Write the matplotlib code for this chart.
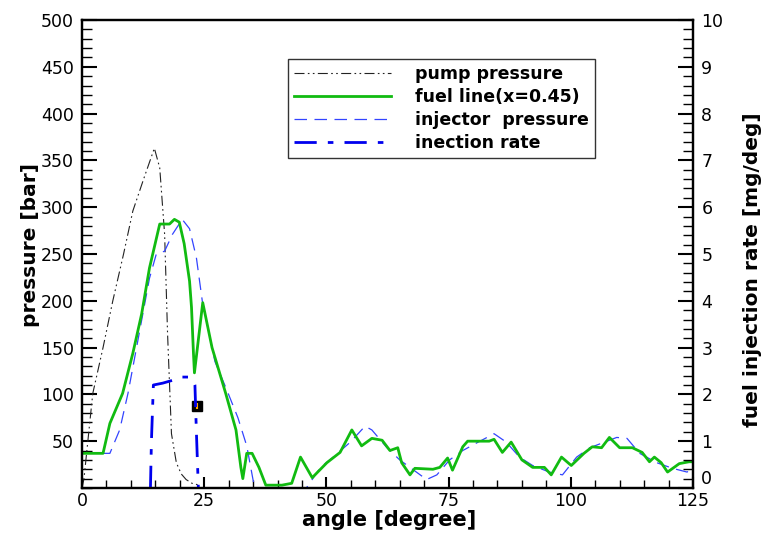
import matplotlib
matplotlib.use("Agg")
import matplotlib.pyplot as plt
from matplotlib.ticker import MultipleLocator
from matplotlib.lines import Line2D

plt.rcParams['font.family'] = ['DejaVu Sans']

# ---- data ----
pump_ang = [0, 0.4, 2.2, 4.3, 6.3, 8.5, 10.4, 12.6, 14.8, 15.9, 16.9, 17.5, 18.3, 19.3, 20.3, 21.3, 22.5, 24.0]
pump_p = [0, 10, 101, 150, 200, 250, 296, 330, 363, 342, 271, 165, 58, 27, 15, 9, 5, 3]

fuel_ang = [0, 4.3, 5.7, 8.3, 10.4, 12.2, 13.8, 15.9, 17.9, 18.9, 19.9, 20.9, 22.0, 22.4, 22.8, 23.0,
            24.7, 26.6, 29.4, 31.5, 32.5, 32.9, 33.7, 34.8, 36.2, 37.6, 40.9, 42.9, 44.7, 47.1, 50.1,
            52.8, 55.2, 57.2, 59.3, 61.4, 63.0, 64.6, 65.4, 67.1, 68.1, 71.8, 73.2, 74.8, 75.8, 77.9,
            78.9, 83.3, 84.3, 86.0, 87.8, 90.0, 92.2, 94.6, 96.0, 98.1, 100.1, 102.7, 104.4, 106.3,
            107.9, 110.0, 112.6, 114.6, 116.1, 117.1, 118.5, 119.8, 122.2, 124.2, 125]
fuel_p = [37, 37, 69, 101, 144, 186, 235, 282, 282, 287, 284, 261, 221, 193, 144, 123,
          198, 150, 101, 62, 22, 10, 37, 37, 22, 3, 3, 5, 33, 11, 27,
          38, 62, 45, 53, 51, 40, 43, 27, 14, 21, 20, 22, 32, 19, 44,
          50, 50, 52, 38, 49, 30, 22, 22, 14, 33, 24, 37, 44, 43,
          54, 43, 43, 38, 28, 33, 27, 17, 26, 28, 28]

inj_ang = [0, 5.7, 7.7, 9.4, 11.8, 13.8, 15.2, 16.9, 18.5, 20.5, 22.0, 23.4, 24.6, 26.0, 27.2, 29.6,
           31.9, 33.7, 35.3, 45.9, 48.8, 51.4, 54.9, 57.9, 59.3, 62.4, 65.0, 67.1, 70.5, 72.6, 75.2,
           77.9, 80.7, 84.3, 86.8, 89.5, 92.2, 95.6, 98.3, 101.2, 103.9, 109.4, 111.5, 114.1, 117.6,
           120.8, 123.8, 125]
inj_p = [37, 37, 62, 101, 168, 224, 250, 253, 271, 287, 277, 246, 200, 165, 135, 105,
         75, 45, 0, 0, 22, 33, 49, 66, 62, 43, 30, 22, 9, 14, 30,
         40, 48, 58, 49, 33, 24, 17, 14, 33, 43, 54, 53, 37, 27,
         21, 17, 22]

rate_ang = [14.0, 14.2, 14.6, 16.5, 18.5, 20.0, 21.7, 22.8, 23.1, 23.4, 23.8]
rate_val = [0, 1.0, 2.2, 2.24, 2.3, 2.37, 2.37, 2.3, 2.2, 1.2, 0]

marker_ang = [23.5]
marker_p = [88]

x_ticks = [0, 25, 50, 75, 100, 125]
y_ticks = [50, 100, 150, 200, 250, 300, 350, 400, 450, 500]
r_ticks = [0, 1, 2, 3, 4, 5, 6, 7, 8, 9, 10]

labels = ['pump pressure', 'fuel line(x=0.45)', 'injector  pressure', 'inection rate']

# ---- figure ----
fig = plt.figure(figsize=(7.68, 5.35), dpi=100)
ax = fig.add_axes([0.1068, 0.0879, 0.7955, 0.8747])
ax2 = ax.twinx()

pump_ls = (0, (9, 3, 1.5, 3, 1.5, 3))
inj_ls = (0, (10, 6))
rate_ls = (0, (8, 4, 2, 4))

ax.plot(pump_ang, pump_p, color='#222222', lw=0.8, ls=pump_ls)
ax.plot(inj_ang, inj_p, color='#3344ff', lw=0.9, ls=inj_ls)
ax.plot(fuel_ang, fuel_p, color='#11bb11', lw=2.0)
ax2.plot(rate_ang, rate_val, color='#0000ee', lw=2.0, ls=rate_ls)
ax.plot(marker_ang, marker_p, marker='s', color='black', ms=7, ls='none')
ax.plot(marker_ang, marker_p, marker='|', color='orange', ms=5, mew=1.5, ls='none')

ax.set_xlim(0, 125)
ax.set_ylim(0, 500)
ax2.set_ylim(0, 10)
ax.set_xticks(x_ticks)
ax.set_yticks(y_ticks)
ax2.set_yticks(r_ticks)
ax.xaxis.set_minor_locator(MultipleLocator(5))
ax.yaxis.set_minor_locator(MultipleLocator(10))
ax2.yaxis.set_minor_locator(MultipleLocator(0.2))

for a in (ax, ax2):
    for s in a.spines.values():
        s.set_linewidth(1.6)
ax.tick_params(which='major', direction='in', length=11, width=1.5, labelsize=12.5, pad=6)
ax.tick_params(which='minor', direction='in', length=7, width=1.0)
ax.tick_params(axis='x', which='major', length=8, pad=3)
ax.tick_params(axis='x', which='minor', length=6)
ax2.tick_params(which='major', direction='in', length=11, width=1.5, labelsize=12.5, pad=6)
ax2.tick_params(which='minor', direction='in', length=7, width=1.0)
fig.canvas.draw()
for t in ax2.get_yticklabels():
    if t.get_text() == '0':
        t.set_verticalalignment('bottom')

ax.set_xlabel('angle [degree]', fontsize=15, fontweight='bold')
ax.set_ylabel('pressure [bar]', fontsize=14.5, fontweight='bold')
ax2.set_ylabel('fuel injection rate [mg/deg]', fontsize=14.5, fontweight='bold', rotation=90)
ax.xaxis.set_label_coords(0.502, -0.068)
ax.yaxis.set_label_coords(-0.085, 0.519)
ax2.yaxis.set_label_coords(1.098, 0.466)
ax2.yaxis.label.set_verticalalignment('center')
ax.yaxis.label.set_verticalalignment('center')
ax.xaxis.label.set_verticalalignment('center')

handles = [Line2D([], [], color='#222222', lw=0.8, ls=pump_ls),
           Line2D([], [], color='#11bb11', lw=2.0),
           Line2D([], [], color='#3344ff', lw=0.9, ls=inj_ls),
           Line2D([], [], color='#0000ee', lw=2.0, ls=rate_ls)]
leg = ax.legend(handles, labels, loc='upper left', bbox_to_anchor=(0.337, 0.917),
                prop={'weight': 'bold', 'size': 12.5}, frameon=True, fancybox=False,
                edgecolor='black', handlelength=5.6, handletextpad=1.4,
                labelspacing=0.3, borderpad=0.33, borderaxespad=0)
leg.get_frame().set_linewidth(1.0)
leg.set_zorder(5)

fig.savefig('out.png', dpi=100)
